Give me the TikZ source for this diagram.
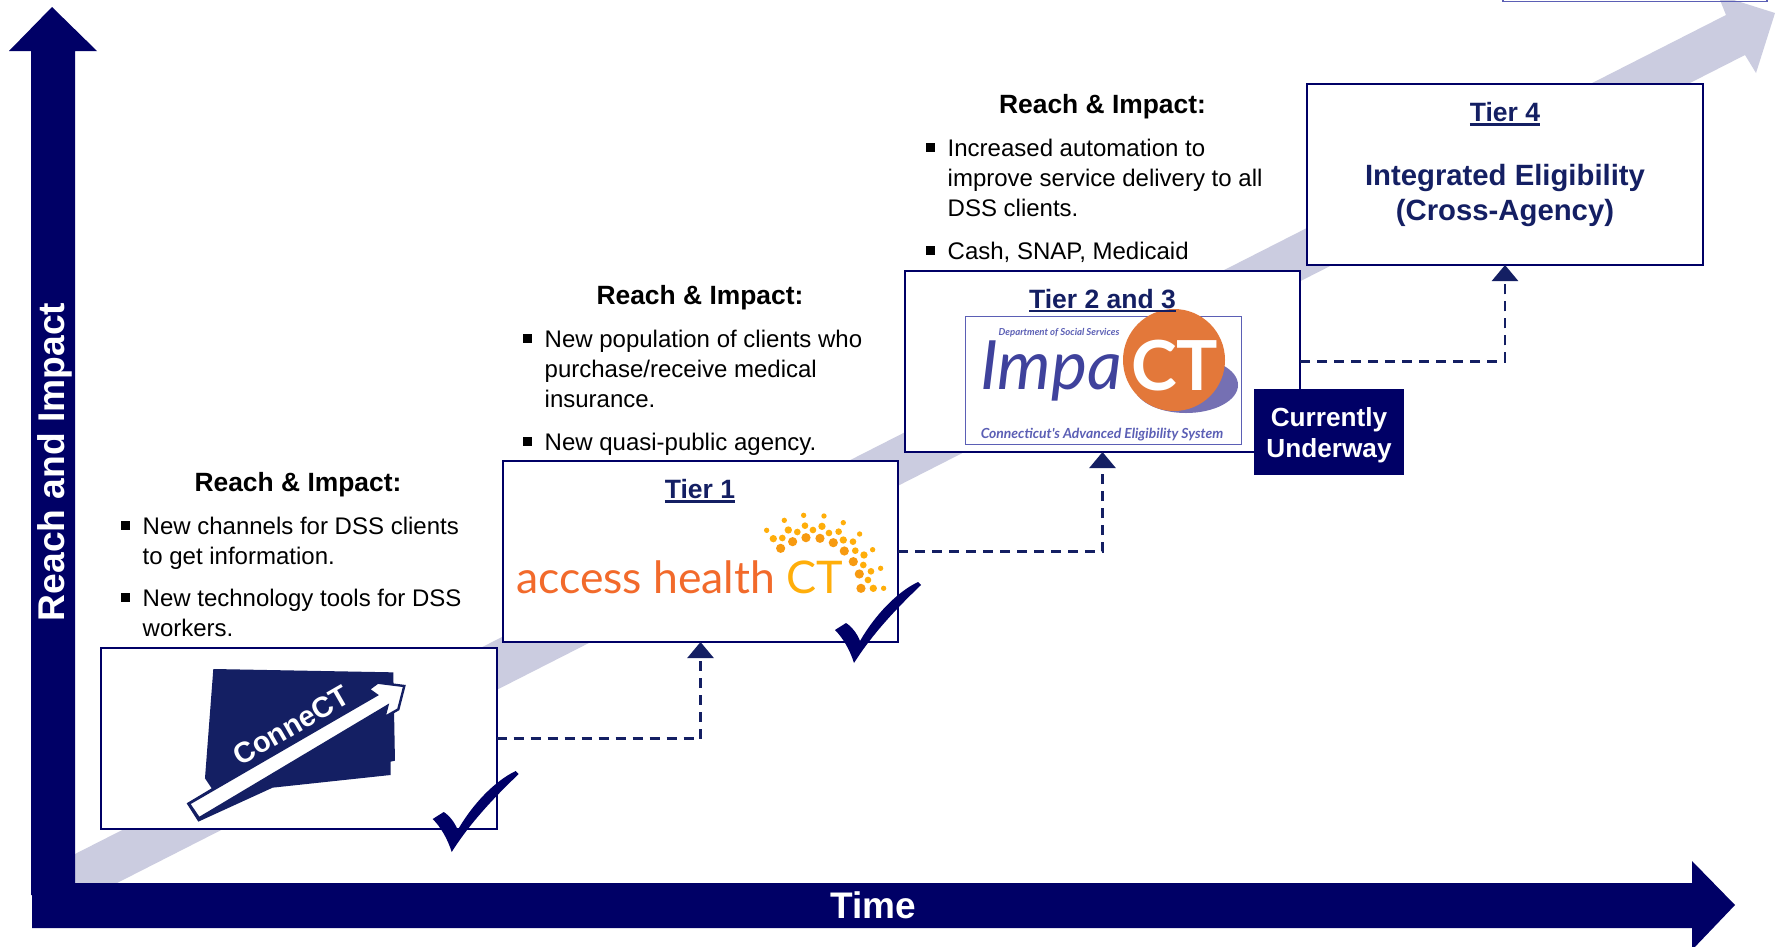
\documentclass[tikz,border=0pt]{standalone}
\usepackage{fontspec}
\setmainfont{Liberation Sans}
\newfontfamily\lato{Lato}
\usetikzlibrary{arrows.meta}
\definecolor{axisnavy}{HTML}{000066}
\definecolor{textnavy}{HTML}{141F63}
\definecolor{lightarrow}{HTML}{CBCCE0}
\definecolor{ahorange}{HTML}{F26A2B}
\definecolor{ahyellow}{HTML}{FFAE0A}
\definecolor{ahdeep}{HTML}{F79A10}
\definecolor{impblue}{HTML}{3F429C}
\definecolor{impframe}{HTML}{5B5FB5}
\definecolor{imporange}{HTML}{E3783A}
\definecolor{imppurple}{HTML}{7570B3}
\newcommand\fsz[2]{\fontsize{#1}{#2}\selectfont}
\newcommand\tierul[1]{\setbox0\hbox{#1}\rlap{\rule[-4pt]{\wd0}{2.6pt}}\box0}
\newcommand\blt{\leavevmode\llap{\rule[4.5pt]{9pt}{9pt}\hspace{12.5pt}}}
\tikzset{
  x=1pt,y=-1pt,
  tierbox/.style={draw=axisnavy,fill=white,line width=2pt,minimum width=#1,minimum height=181pt,inner sep=0pt,outer sep=0pt},
  link/.style={draw=textnavy,line width=2.5pt,dash pattern=on 10pt off 7pt,-{Triangle[width=26pt,length=16pt]}},
  headtxt/.style={font=\fsz{26.4}{30}\bfseries,text=black,inner sep=0pt},
  bodytxt/.style={font=\fsz{24}{30},text=black,align=left,anchor=north west,inner sep=0pt},
  tiertxt/.style={font=\fsz{26.5}{30}\bfseries,text=textnavy,inner sep=0pt},
  chk/.style={fill=axisnavy,draw=none},
}
\begin{document}
\begin{tikzpicture}
\useasboundingbox (0,0) rectangle (1775,946);
\clip (0,0) rectangle (1775,946);
\fill[white] (0,0) rectangle (1775,946);
% rising arrow
\fill[lightarrow] (75,854) -- (1726,15) -- (1718,-5) -- (1775,13) -- (1756,73) -- (1745,55) -- (117,883) -- (75,883) -- cycle;
% top-right cut box
\draw[impframe,line width=1.2pt] (1503,-10) -- (1503,1.2) -- (1767,1.2) -- (1767,-10);
% axes
\fill[axisnavy] (31,895) -- (31,51) -- (9,51) -- (52,7) -- (97,51) -- (75,51) -- (75,895) -- cycle;
\fill[axisnavy] (32,883) -- (1692,883) -- (1692,861) -- (1735,905) -- (1692,950) -- (1692,928) -- (32,928) -- cycle;
\node[font=\fsz{37.2}{40}\bfseries,text=white,rotate=90,inner sep=0pt] (ylab) at (55,462) {Reach and Impact};
\node[font=\fsz{37}{40}\bfseries,text=white,inner sep=0pt] (xlab) at (873,905) {Time};
% boxes
\node[tierbox=396pt] (t0) at (298.5,738.5) {};
\node[tierbox=395pt] (t1) at (700.5,551.5) {};
\node[tierbox=395.5pt] (t2) at (1102.5,361.5) {};
\node[tierbox=396pt] (t4) at (1505,174.5) {};
% connectors
\draw[link] (t0.east) -| (t1.south);
\draw[link] (t1.east) -| (t2.south);
\draw[link] (t2.east) -| (t4.south);
% ConneCT logo
\begin{scope}[shift={(80,640)},x=0.3333pt,y=-0.3333pt]
  \fill[textnavy] (400,87) -- (940,97) -- (945,362) -- (932,365) -- (932,405) -- (578,443) -- (355,545) -- (320,490) -- (395,445) -- (375,415) -- cycle;
  \draw[textnavy,fill=white,line width=2.4pt,line join=miter] (327,491) -- (890,165) -- (866,148) -- (893,128) -- (973,138) -- (955,208) -- (913,232) -- (922,198) -- (357,535) -- cycle;
\end{scope}
\node[font=\fsz{29}{32}\bfseries,text=white,rotate=30,inner sep=0pt] (connect) at (291,725.5) {ConneCT};
% access health logo
\node[font=\lato\fsz{44.5}{50},text=ahorange,anchor=base west,inner sep=0pt] (ahtext) at (516,593) {access health};
\node[font=\lato\fsz{45}{50},text=ahyellow,anchor=base west,inner sep=0pt] (ahct) at (786,593) {CT};
\begin{scope}[shift={(490,450)},x=0.3333pt,y=-0.3333pt]
  \foreach \px/\py/\pr in {830/241/8,883/211/8,941/196/8,1002/198/8,1060/218/8,1109/252/8,1148/299/8,1172/355/8,1181/415/8,
    850/266/11,877/264/10,895/240/11,922/246/10,945/227/10,969/240/10,996/229/11,1017/249/10,1046/245/10,1060/270/11,1089/275/10,1096/302/10,1122/315/11,1120/345/10,1143/364/10,1134/390/10,1150/415/11}
    \fill[ahyellow] (\px,\py) circle [radius=\pr*0.3333pt];
  \foreach \px/\py in {872/295,908/275,948/263,990/265,1030/278,1063/303,1090/335,1108/372,1113/415}
    \fill[ahdeep] (\px,\py) circle [radius=4.6pt];
\end{scope}
% ImpaCT logo
\draw[impframe,line width=1pt] (965,316) rectangle (1241,444);
\fill[imppurple] (1186,385) ellipse [x radius=52, y radius=28];
\fill[imporange] (1174,360) circle [radius=51];
\node[font=\lato\itshape\fsz{68}{70},text=impblue,anchor=base west,inner sep=0pt] (impa) at (980,389) {Impa};
\node[font=\lato\bfseries\fsz{69}{72},text=white,anchor=base west,inner sep=0pt] (impct) at (1131,390) {CT};
\node[font=\lato\bfseries\itshape\fsz{9.6}{11},text=impframe,inner sep=0pt] (impdept) at (1059,333) {Department of Social Services};
\node[font=\lato\bfseries\itshape\fsz{13.9}{16},text=impframe,inner sep=0pt] (impsys) at (1102,435) {Connecticut's Advanced Eligibility System};
% tier labels
\node[tiertxt] (l1) at (700,491) {\tierul{Tier 1}};
\node[tiertxt] (l2) at (1102.5,300.5) {\tierul{Tier 2 and 3}};
\node[tiertxt] (l4) at (1505,114) {\tierul{Tier 4}};
\node[font=\fsz{29.3}{35}\bfseries,text=textnavy,align=center,inner sep=0pt] (ie) at (1505,195.5) {Integrated Eligibility\\(Cross-Agency)};
% currently underway
\node[fill=axisnavy,minimum width=150pt,minimum height=86pt,inner sep=0pt] (cu) at (1329,432) {};
\node[text=white,font=\fsz{26.2}{31.5}\bfseries,align=center,inner sep=0pt] (cutxt) at (1329,435) {Currently\\Underway};
% reach & impact text
\node[headtxt] (h1) at (298,484.5) {Reach \& Impact:};
\node[bodytxt] (a1) at (142.5,517.3) {\blt New channels for DSS clients\\to get information.};
\node[bodytxt] (a2) at (142.5,589.3) {\blt New technology tools for DSS\\workers.};
\node[headtxt] (h2) at (700,297.5) {Reach \& Impact:};
\node[bodytxt] (b1) at (544.5,329.5) {\blt New population of clients who\\purchase/receive medical\\insurance.};
\node[bodytxt] (b2) at (544.5,433) {\blt New quasi-public agency.};
\node[headtxt] (h3) at (1102.5,106.5) {Reach \& Impact:};
\node[bodytxt] (c1) at (947.5,138.5) {\blt Increased automation to\\improve service delivery to all\\DSS clients.};
\node[bodytxt] (c2) at (947.5,242) {\blt Cash, SNAP, Medicaid};
% check marks
\foreach \cx/\cy in {432.7/819,835/630}{
  \begin{scope}[shift={(\cx,\cy)}]
    \fill[chk] (0,0) .. controls (3,-2) and (8,-5) .. (11,-7) .. controls (16,-4) and (22,3) .. (25,11)
      .. controls (40,-15) and (62,-38) .. (83,-48) -- (86,-45)
      .. controls (62,-22) and (38,3) .. (19,33) .. controls (15,20) and (8,8) .. (0,0) -- cycle;
  \end{scope}
}
\end{tikzpicture}
\end{document}
